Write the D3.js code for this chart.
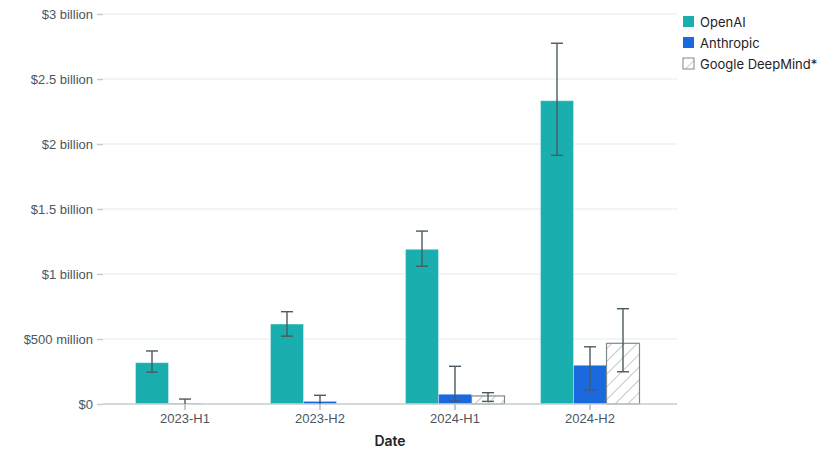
<!DOCTYPE html>
<html><head><meta charset="utf-8">
<script src="https://cdn.jsdelivr.net/npm/d3@7"></script>
<style>
body{margin:0;background:#fff;}
svg{font-family:Inter, "Noto Sans", sans-serif;}
</style></head>
<body><svg id="c" width="840" height="473"></svg>
<script>
const categories = ["2023-H1","2023-H2","2024-H1","2024-H2"];
const seriesNames = ["OpenAI","Anthropic","Google DeepMind*"];
// values in billions USD
const openaiValues = [0.318, 0.615, 1.19, 2.333];
const openaiLow    = [0.245, 0.522, 1.06, 1.913];
const openaiHigh   = [0.408, 0.71, 1.33, 2.775];
const anthropicValues = [0.005, 0.02, 0.075, 0.298];
const anthropicLow    = [0.0, 0.0, 0.022, 0.108];
const anthropicHigh   = [0.038, 0.067, 0.29, 0.44];
const gdmValues = [null, null, 0.062, 0.467];
const gdmLow    = [null, null, 0.02, 0.248];
const gdmHigh   = [null, null, 0.087, 0.733];
const yTicks = [0, 0.5, 1, 1.5, 2, 2.5, 3];
const yTickLabels = ["$0","$500 million","$1 billion","$1.5 billion","$2 billion","$2.5 billion","$3 billion"];

const series = [
  {name: seriesNames[0], v: openaiValues, lo: openaiLow, hi: openaiHigh, fill: "#1aafae", hatch: false},
  {name: seriesNames[1], v: anthropicValues, lo: anthropicLow, hi: anthropicHigh, fill: "#1b69df", hatch: false},
  {name: seriesNames[2], v: gdmValues, lo: gdmLow, hi: gdmHigh, fill: "url(#hatch)", hatch: true}
];

const svg = d3.select("#c");
const defs = svg.append("defs");
const pat = defs.append("pattern").attr("id","hatch").attr("patternUnits","userSpaceOnUse")
  .attr("width",9).attr("height",9).attr("patternTransform","rotate(45)");
pat.append("rect").attr("width",9).attr("height",9).attr("fill","#fff");
pat.append("line").attr("x1",0).attr("y1",0).attr("x2",0).attr("y2",9).attr("stroke","#8a9496").attr("stroke-width",1);

const mLeft = 103, mRight = 677, mTop = 14, mBottom = 404;
const y = d3.scaleLinear().domain([0,3]).range([mBottom, mTop]);
const x = d3.scaleBand().domain(categories).range([117.5, 657.5]).paddingInner(0).paddingOuter(0);
const barW = 33;

// gridlines
const grid = svg.append("g");
grid.selectAll("line").data(yTicks.filter(t=>t>0)).join("line")
  .attr("x1", mLeft).attr("x2", mRight).attr("y1", d=>y(d)).attr("y2", d=>y(d))
  .attr("stroke","#edf2f2").attr("stroke-width",1.5);

// y axis
const yAxis = d3.axisLeft(y).tickValues(yTicks).tickFormat((d,i)=>yTickLabels[i]).tickSize(6).tickPadding(4);
const yg = svg.append("g").attr("transform",`translate(${mLeft},0)`).call(yAxis);
yg.select(".domain").remove();
yg.selectAll(".tick line").attr("stroke","#c5cccc").attr("stroke-width",1.5);
yg.selectAll(".tick text").attr("fill","#4b5660").attr("font-size",13);

// bars
series.forEach((s, si) => {
  const g = svg.append("g");
  const data = categories.map((c,i)=>({c, v:s.v[i], lo:s.lo[i], hi:s.hi[i]})).filter(d=>d.v!=null);
  g.selectAll("rect").data(data).join("rect")
    .attr("x", d => x(d.c) + x.bandwidth()/2 - barW*1.5 + si*barW)
    .attr("y", d => y(d.v))
    .attr("width", barW)
    .attr("height", d => y(0) - y(d.v))
    .attr("fill", s.fill)
    .attr("stroke", s.hatch ? "#7d8a8c" : "rgba(255,255,255,0.35)")
    .attr("stroke-width", s.hatch ? 1.2 : 1);
});

// x axis
const xAxis = d3.axisBottom(x).tickSize(6).tickPadding(4);
const xg = svg.append("g").attr("transform",`translate(0,${mBottom})`).call(xAxis);
xg.select(".domain").remove();
xg.selectAll(".tick line").attr("stroke","#8a9496").attr("stroke-width",1);
xg.selectAll(".tick text").attr("fill","#4b5660").attr("font-size",13);
svg.append("line").attr("x1",mLeft).attr("x2",mRight).attr("y1",mBottom).attr("y2",mBottom)
  .attr("stroke","#c5cccc").attr("stroke-width",1.5);

// error bars
series.forEach((s, si) => {
  const g = svg.append("g").attr("stroke","#4a5a60").attr("stroke-width",1.4).attr("fill","none");
  categories.forEach((c,i) => {
    if (s.v[i]==null) return;
    const cx = x(c) + x.bandwidth()/2 - barW*1.5 + si*barW + barW/2;
    const yh = y(s.hi[i]), yl = y(s.lo[i]);
    g.append("line").attr("x1",cx).attr("x2",cx).attr("y1",yh).attr("y2",yl);
    g.append("line").attr("x1",cx-6).attr("x2",cx+6).attr("y1",yh).attr("y2",yh);
    if (s.lo[i] > 0) g.append("line").attr("x1",cx-6).attr("x2",cx+6).attr("y1",yl).attr("y2",yl);
  });
});

// x axis title
svg.append("text").attr("x",(mLeft+mRight)/2).attr("y",446).attr("text-anchor","middle")
  .attr("font-size",14).attr("font-weight",600).attr("fill","#1f2326").text("Date");

// legend
const lg = svg.append("g").attr("transform","translate(683,16)");
series.forEach((s, i) => {
  const row = lg.append("g").attr("transform",`translate(0,${i*21})`);
  row.append("rect").attr("x",0).attr("y",0).attr("width",11).attr("height",11)
    .attr("fill", s.hatch ? "url(#hatch)" : s.fill)
    .attr("stroke", s.hatch ? "#7d8a8c" : "none").attr("stroke-width",1);
  row.append("text").attr("x",17).attr("y",10.5).attr("font-size",13).attr("fill","#1f2326").text(s.name);
});
</script></body></html>
